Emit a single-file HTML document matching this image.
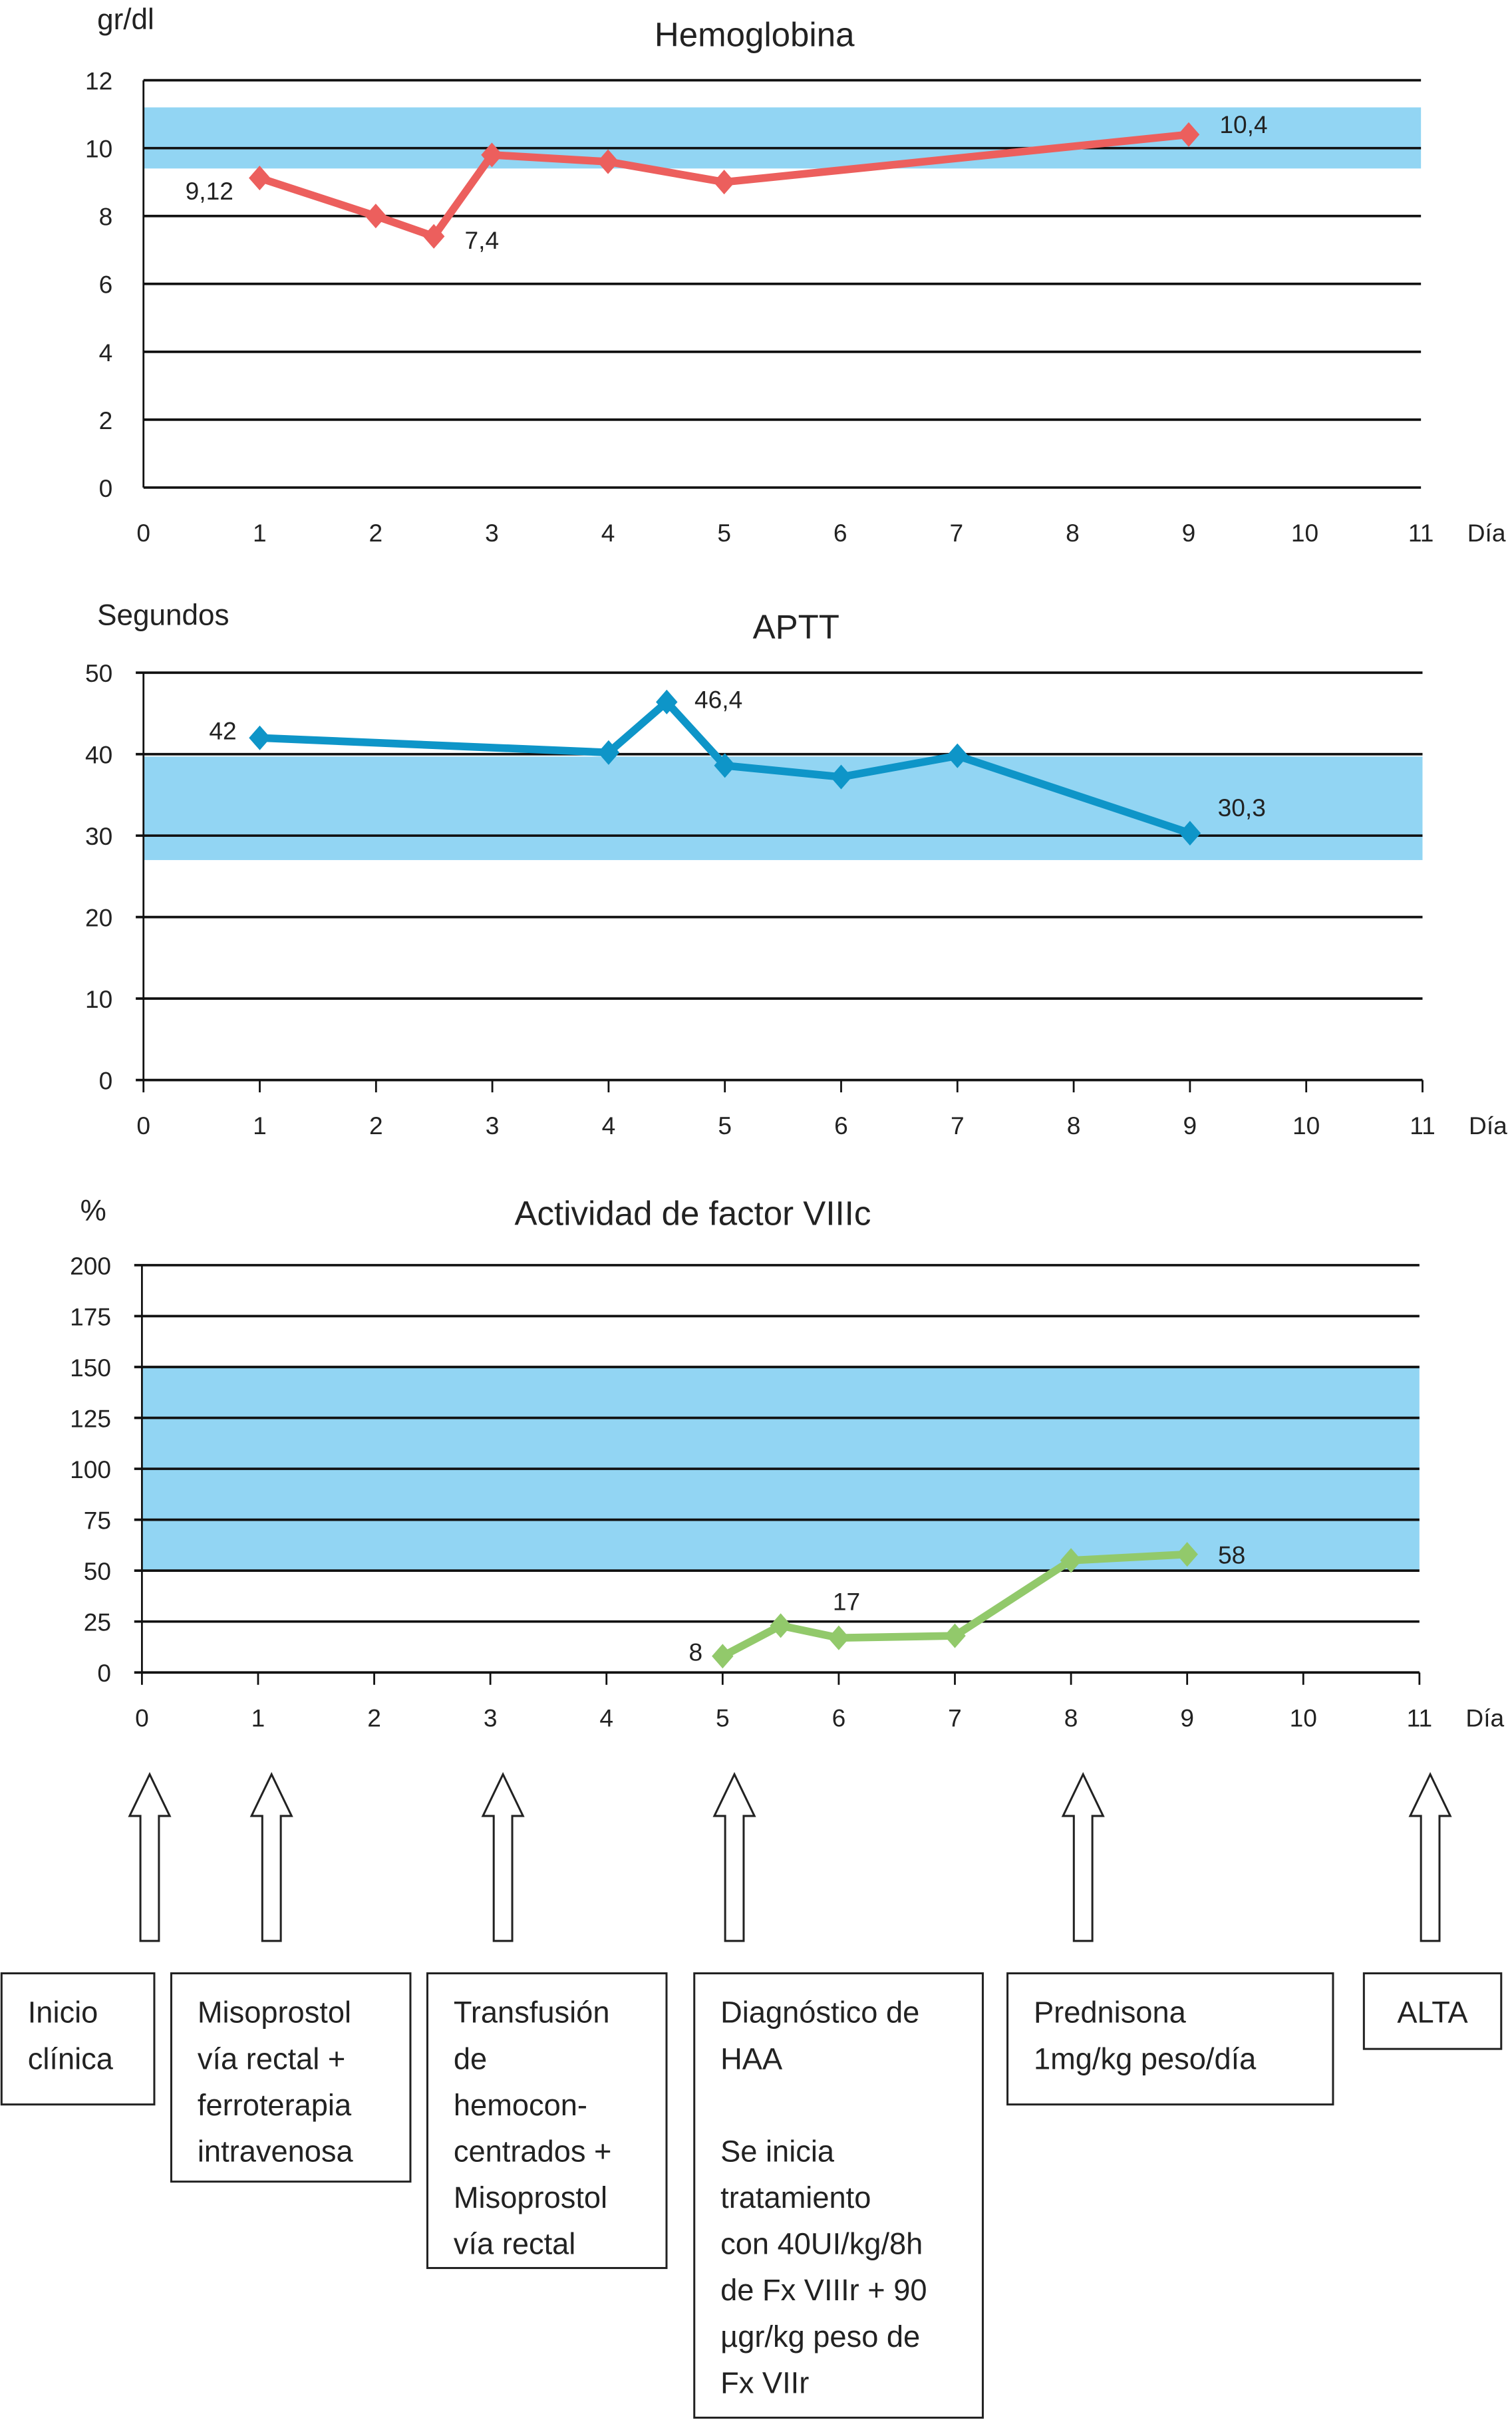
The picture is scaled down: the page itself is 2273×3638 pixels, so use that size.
<!DOCTYPE html>
<html><head><meta charset="utf-8"><style>
html,body{margin:0;padding:0;background:#fff}
svg{display:block;font-family:"Liberation Sans",sans-serif}
</style></head><body>
<svg id="s" xmlns="http://www.w3.org/2000/svg" width="2273" height="3638" viewBox="0 0 980 1568.5"></svg>
<script>
const NS='http://www.w3.org/2000/svg';
const svg=document.getElementById('s');
// Hemoglobina data
const hbDays=[1,2,2.5,3,4,5,9];
const hbValues=[9.12,8,7.4,9.8,9.6,9,10.4];
const hbTicks=[0,2,4,6,8,10,12];
const hbBand=[9.4,11.2];
const hbLabels=[[0,'9,12'],[2,'7,4'],[6,'10,4']];
// APTT data
const apttDays=[1,4,4.5,5,6,7,9];
const apttValues=[42,40.2,46.4,38.6,37.2,39.8,30.3];
const apttTicks=[0,10,20,30,40,50];
const apttBand=[27,39.7];
const apttLabels=[[0,'42'],[2,'46,4'],[6,'30,3']];
// Factor VIIIc data
const f8Days=[5,5.5,6,7,8,9];
const f8Values=[8,23,17,18,55,58];
const f8Ticks=[0,25,50,75,100,125,150,175,200];
const f8Band=[50,150];
const f8Labels=[[0,'8'],[2,'17'],[5,'58']];
const dayTicks=[0,1,2,3,4,5,6,7,8,9,10,11];

function el(tag,attrs,parent,text){const e=document.createElementNS(NS,tag);for(const k in attrs)e.setAttribute(k,attrs[k]);if(text!==undefined)e.textContent=text;(parent||svg).appendChild(e);return e;}

function chart(cfg){
  const g=el('g',{},svg);
  
  
  const xs=d=>cfg.x0+(cfg.x1-cfg.x0)*d/11;
  const ymax=cfg.ticks[cfg.ticks.length-1];
  const ys=v=>cfg.yb-(cfg.yb-cfg.yt)*v/ymax;
  const band=el('rect',{x:cfg.x0,y:ys(cfg.band[1]),width:cfg.x1-cfg.x0,height:ys(cfg.band[0])-ys(cfg.band[1]),fill:'#92d5f3'},g);
  
  
  cfg.ticks.forEach(t=>{
    const l=el('line',{x1:cfg.x0-(cfg.xticks?5:0),x2:cfg.x1,y1:ys(t),y2:ys(t),stroke:'#111','stroke-width':1.6},g);
    
    
    const tx=el('text',{x:cfg.x0-20,y:ys(t)+6,'font-size':16,'text-anchor':'end',fill:'#222'},g,String(t));
    
    
  });
  const ax=el('line',{x1:cfg.x0,x2:cfg.x0,y1:cfg.yt,y2:cfg.yb,stroke:'#111','stroke-width':1.2},g);
  
  
  dayTicks.forEach(d=>{
    if(cfg.xticks){const tk=el('line',{x1:xs(d),x2:xs(d),y1:cfg.yb,y2:cfg.yb+8,stroke:'#111','stroke-width':1.2},g);
      
      }
    const tx=el('text',{x:xs(d),y:cfg.yb+35,'font-size':16,'text-anchor':'middle',fill:'#222'},g,String(d));
    
    
  });
  const dl=el('text',{x:cfg.x1+30,y:cfg.yb+35,'font-size':16,fill:'#222'},g,'Día');
  
  
  const ut=el('text',{x:cfg.ux,y:cfg.uy,'font-size':19,fill:'#222'},g,cfg.unit);
  
  
  const tt=el('text',{x:cfg.tx,y:cfg.ty,'font-size':22,'text-anchor':'middle',fill:'#222'},g,cfg.title);
  
  
  const pts=cfg.days.map((d,i)=>xs(d)+','+ys(cfg.vals[i])).join(' ');
  const pl=el('polyline',{points:pts,fill:'none',stroke:cfg.color,'stroke-width':5,'stroke-linejoin':'round'},g);
  
  
  cfg.days.forEach((d,i)=>{
    const x=xs(d),y=ys(cfg.vals[i]);
    const m=el('polygon',{points:`${x},${y-8} ${x+7},${y} ${x},${y+8} ${x-7},${y}`,fill:cfg.color},g);
    
    
  });
  cfg.labels.forEach(([i,txt],k)=>{
    const o=cfg.lo[k];
    const t=el('text',{x:xs(cfg.days[i])+o[0],y:ys(cfg.vals[i])+o[1],'font-size':16,'text-anchor':o[2]||'start',fill:'#222'},g,txt);
    
    
  });
}
chart({name:'hemoglobin-chart',x0:93,x1:921,yt:52,yb:316,ticks:hbTicks,band:hbBand,days:hbDays,vals:hbValues,color:'#ec5f5d',
  labels:hbLabels,lo:[[-17,14,'end'],[20,8],[20,-1]],unit:'gr/dl',ux:63,uy:19,title:'Hemoglobina',tx:489,ty:30,xticks:false});
chart({name:'aptt-chart',x0:93,x1:922,yt:436,yb:700,ticks:apttTicks,band:apttBand,days:apttDays,vals:apttValues,color:'#0e95c8',
  labels:apttLabels,lo:[[-15,1,'end'],[18,4],[18,-11]],unit:'Segundos',ux:63,uy:405,title:'APTT',tx:516,ty:414,xticks:true});
chart({name:'factor-viii-chart',x0:92,x1:920,yt:820,yb:1084,ticks:f8Ticks,band:f8Band,days:f8Days,vals:f8Values,color:'#92c96b',
  labels:f8Labels,lo:[[-13,3,'end'],[5,-18,'middle'],[20,6]],unit:'%',ux:52,uy:791,title:'Actividad de factor VIIIc',tx:449,ty:794,xticks:true});

// arrows
const arrowXs=[97,176,326,476,702,927];
arrowXs.forEach(x=>{
  const a=el('polygon',{points:`${x},1150 ${x+13},1177 ${x+6},1177 ${x+6},1258 ${x-6},1258 ${x-6},1177 ${x-13},1177`,fill:'#fff',stroke:'#222','stroke-width':1.3});
  
  
});
const boxes=[
 {x:1,w:99,h:85,lines:['Inicio','clínica'],n:'box-inicio-clinica'},
 {x:111,w:155,h:135,lines:['Misoprostol','vía rectal +','ferroterapia','intravenosa'],n:'box-misoprostol'},
 {x:277,w:155,h:191,lines:['Transfusión','de','hemocon-','centrados +','Misoprostol','vía rectal'],n:'box-transfusion'},
 {x:450,w:187,h:288,lines:['Diagnóstico de','HAA','','Se inicia','tratamiento','con 40UI/kg/8h','de Fx VIIIr + 90','µgr/kg peso de','Fx VIIr'],n:'box-diagnostico'},
 {x:653,w:211,h:85,lines:['Prednisona','1mg/kg peso/día'],n:'box-prednisona'},
 {x:884,w:89,h:49,lines:['ALTA'],n:'box-alta'}];
boxes.forEach(b=>{
  const g=el('g',{});
  
  
  el('rect',{x:b.x,y:1279,width:b.w,height:b.h,fill:'#fff',stroke:'#222','stroke-width':1.3},g);
  b.lines.forEach((l,i)=>{ if(l) el('text',{x:b.lines.length===1?b.x+b.w/2:b.x+17,y:1311+i*30,'font-size':19.5,fill:'#222','text-anchor':b.lines.length===1?'middle':'start'},g,l); });
});
</script>
</body></html>
